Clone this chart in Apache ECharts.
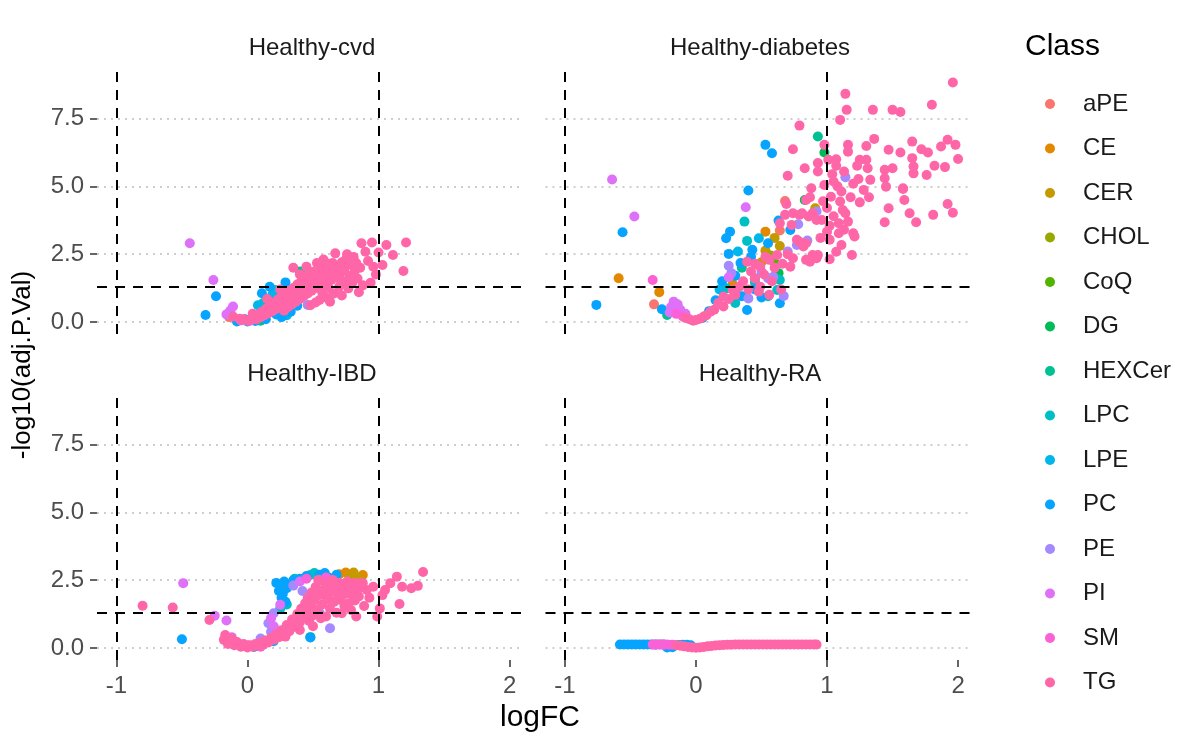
<!DOCTYPE html>
<html>
<head>
<meta charset="utf-8">
<script src="https://cdn.jsdelivr.net/npm/echarts@6/dist/echarts.min.js"></script>
<style>
html,body{margin:0;padding:0;background:#fff;}
#chart{width:1185px;height:740px;}
</style>
</head>
<body>
<div id="chart"></div>
<script>
// ---------- categories / labels ----------
const classes = ['aPE','CE','CER','CHOL','CoQ','DG','HEXCer','LPC','LPE','PC','PE','PI','SM','TG'];
const classColors = ['#F8766D','#E38900','#C49A00','#99A800','#53B400','#00BC56','#00C094','#00BFC4','#00B6EB','#06A4FF','#A58AFF','#DF70F8','#FB61D7','#FF66A8'];
const panelTitles = ['Healthy-cvd','Healthy-diabetes','Healthy-IBD','Healthy-RA'];
const xTicks = [-1, 0, 1, 2];
const yTicks = [0, 2.5, 5, 7.5];
const fcCutoffs = [-1, 1];
const pCutoff = 1.3;

// ---------- Healthy-cvd ----------
const cvd_aPE = [[-0.14,0.18]];
const cvd_DG = [[0.28,1.10]];
const cvd_HEXCer = [[0.40,1.86],[0.10,0.05]];
const cvd_LPC = [[0.21,1.18],[0.12,0.70]];
const cvd_LPE = [[0.08,0.62],[0.19,1.00],[0.30,0.25]];
const cvd_PC = [[-0.24,0.95],[-0.32,0.26],[-0.08,0.02],[0.11,1.06],[0.17,1.30],[0.29,1.46],[0.33,0.38],[0.00,0.02],[0.06,0.04],[0.14,0.10],[0.22,0.28],[0.26,0.18],[0.38,0.60],[-0.02,0.10]];
const cvd_PE = [[-0.15,0.30],[0.46,0.63],[0.12,0.32],[0.20,0.52],[0.09,0.18]];
const cvd_PI = [[-0.44,2.90],[-0.26,1.55],[-0.11,0.57],[-0.13,0.42],[0.03,0.08],[0.06,0.14],[-0.16,0.28]];
const cvd_SM = [[0.02,0.05],[-0.05,0.06]];
const cvd_TG = [[-0.11,0.20],[-0.06,0.12],[-0.03,0.10],[0.00,0.05],[0.03,0.12],[0.05,0.20],[0.07,0.10],[0.08,0.28],[0.10,0.18],[0.11,0.38],[0.13,0.25],[0.14,0.48],[0.16,0.32],[0.17,0.58],[0.19,0.40],[0.20,0.70],[0.22,0.48],[0.23,0.82],[0.25,0.58],[0.26,0.95],[0.27,0.70],[0.28,0.42],[0.29,1.05],[0.30,0.80],[0.31,0.55],[0.32,1.15],[0.33,0.92],[0.34,0.65],[0.35,1.25],[0.35,2.00],[0.36,1.02],[0.37,0.75],[0.38,1.38],[0.39,1.12],[0.40,0.85],[0.40,1.75],[0.41,1.50],[0.42,1.25],[0.43,0.95],[0.44,1.62],[0.45,1.35],[0.45,2.04],[0.46,1.05],[0.47,1.75],[0.48,1.48],[0.48,0.62],[0.49,1.15],[0.50,1.85],[0.51,1.58],[0.52,1.25],[0.52,0.72],[0.53,2.17],[0.54,1.70],[0.55,1.35],[0.55,0.81],[0.56,1.95],[0.57,1.10],[0.58,1.60],[0.58,2.30],[0.59,2.05],[0.60,1.40],[0.60,0.90],[0.61,1.80],[0.62,2.15],[0.63,0.75],[0.64,1.55],[0.65,2.17],[0.66,1.90],[0.66,1.05],[0.67,2.53],[0.68,1.65],[0.69,2.05],[0.70,1.30],[0.71,1.80],[0.72,2.20],[0.72,0.98],[0.73,1.50],[0.74,1.95],[0.76,2.50],[0.77,1.24],[0.78,1.70],[0.79,2.10],[0.80,1.45],[0.82,1.90],[0.83,2.17],[0.84,1.60],[0.85,1.10],[0.86,2.00],[0.87,2.90],[0.88,1.35],[0.90,2.59],[0.92,2.25],[0.94,1.45],[0.95,2.93],[0.96,2.04],[0.98,1.75],[1.00,2.56],[1.03,2.10],[1.06,2.84],[1.11,2.47],[1.19,1.88],[1.21,2.93],[0.15,0.85],[0.25,1.20],[0.04,0.30],[0.62,1.25],[0.70,1.60],[0.75,2.30],[0.81,2.40],[0.50,1.35],[0.57,1.85]];

// ---------- Healthy-diabetes ----------
const dia_aPE = [[-0.32,0.65],[0.64,3.37],[0.68,4.46]];
const dia_CE = [[-0.59,1.61],[-0.28,1.10],[0.53,3.33],[0.28,1.40]];
const dia_CER = [[0.91,4.19],[0.53,2.63],[0.64,2.80],[0.50,2.20],[0.60,3.10]];
const dia_CHOL = [[0.57,2.45]];
const dia_CoQ = [[0.60,2.20]];
const dia_DG = [[0.98,6.25],[0.83,4.50],[0.63,1.80],[0.45,1.60]];
const dia_HEXCer = [[0.93,6.84],[-0.22,0.26],[0.35,2.00]];
const dia_LPC = [[0.37,3.70],[0.39,2.99],[0.23,1.24],[0.62,1.18],[0.64,1.55],[0.45,1.45],[0.30,0.70],[0.55,0.95]];
const dia_LPE = [[0.48,3.09],[0.32,2.60],[0.18,1.20],[0.30,1.10]];
const dia_PC = [[-0.76,0.63],[-0.56,3.31],[-0.26,0.47],[0.53,6.53],[0.58,6.22],[0.40,4.85],[0.26,3.33],[0.23,3.09],[0.63,3.74],[0.72,3.39],[0.25,2.51],[0.34,2.17],[0.43,2.66],[0.55,2.90],[0.64,0.69],[0.39,0.44],[0.20,1.50],[0.30,1.70],[0.15,0.80],[0.10,0.40],[0.05,0.15],[0.45,1.20],[0.50,0.90],[0.35,0.95],[0.42,2.40]];
const dia_PE = [[1.14,5.34],[0.92,4.07],[0.77,2.84],[0.25,2.07],[0.27,1.80],[0.55,1.61],[0.59,1.67],[0.67,0.96],[0.40,0.87],[0.85,3.00],[0.70,2.60],[0.50,1.85],[0.78,3.60]];
const dia_PI = [[-0.64,5.25],[-0.47,3.89],[-0.19,0.55],[-0.17,0.75],[-0.14,0.65],[-0.12,0.45],[-0.20,0.35],[0.38,4.23],[0.25,1.65],[-0.08,0.30]];
const dia_SM = [[-0.33,1.55],[-0.15,0.30],[-0.10,0.20]];
const dia_TG = [[1.96,8.83],[1.14,8.41],[1.80,8.01],[1.15,7.82],[1.35,7.82],[1.50,7.82],[1.56,7.74],[1.10,7.45],[0.79,7.24],[0.74,6.37],[0.98,6.53],[1.16,6.53],[1.16,6.28],[1.36,6.75],[1.30,6.49],[1.47,6.35],[1.56,6.25],[1.65,6.65],[1.72,6.37],[1.77,6.25],[1.87,6.47],[1.92,6.72],[1.98,6.53],[2.00,6.01],[1.90,5.71],[1.82,5.76],[1.76,5.42],[1.65,6.04],[1.66,5.73],[1.66,5.48],[1.50,5.67],[1.44,5.61],[1.44,5.30],[1.45,4.99],[1.58,4.90],[1.30,5.98],[1.25,5.98],[1.31,5.67],[1.23,5.76],[1.33,5.24],[1.24,5.27],[1.28,4.87],[1.07,6.00],[1.07,5.76],[1.01,5.98],[0.93,5.86],[0.93,5.55],[0.83,5.67],[0.70,5.39],[1.05,5.18],[0.88,4.93],[1.11,4.81],[0.84,4.50],[0.87,4.60],[0.69,4.35],[1.03,4.62],[1.10,4.44],[1.12,4.13],[1.14,4.01],[1.25,4.41],[1.32,4.60],[1.47,4.19],[1.44,3.68],[1.59,4.50],[1.63,4.01],[1.68,3.68],[1.81,3.95],[1.92,4.35],[1.96,4.03],[1.58,4.93],[0.68,3.95],[0.81,4.01],[0.89,4.01],[0.96,3.76],[1.09,3.64],[1.16,3.70],[1.00,3.33],[1.09,3.27],[1.20,3.27],[1.21,3.15],[0.79,2.96],[0.84,2.90],[1.02,3.03],[1.11,2.84],[1.19,2.47],[1.07,2.59],[0.89,2.47],[0.93,2.47],[0.87,2.22],[1.02,2.31],[0.74,2.35],[0.72,2.04],[0.64,3.64],[0.73,3.58],[0.74,4.01],[0.79,3.95],[0.86,3.89],[0.92,3.76],[0.77,3.03],[0.82,2.78],[0.84,2.29],[0.92,2.35],[0.00,0.07],[0.06,0.20],[0.11,0.38],[0.21,0.57],[0.21,0.94],[0.28,1.18],[0.33,1.30],[0.42,1.86],[0.49,2.04],[0.56,2.29],[0.62,2.47],[0.49,1.30],[0.56,1.00],[0.48,1.12],[0.39,2.22],[-0.02,0.05],[-0.05,0.10],[-0.08,0.15],[0.03,0.12],[0.08,0.25],[0.14,0.45],[0.17,0.70],[0.25,0.85],[0.30,1.00],[0.36,1.50],[0.40,1.20],[0.45,1.60],[0.52,1.75],[0.58,1.50],[0.60,2.00],[0.66,2.15],[0.70,2.50],[0.53,2.40],[0.45,2.15],[0.65,1.20],[1.00,4.20],[1.05,3.90],[0.97,4.45],[1.08,5.00],[1.13,5.55],[1.04,5.45],[0.98,5.05],[1.18,4.60],[1.20,5.10],[1.02,3.55],[0.95,3.10],[1.13,3.40]];

// ---------- Healthy-IBD ----------
const ibd_CE = [[0.75,2.78],[0.88,2.69],[0.70,2.72]];
const ibd_CER = [[0.81,2.78],[0.85,2.60],[0.78,2.65]];
const ibd_DG = [[0.48,0.40]];
const ibd_HEXCer = [[0.05,0.05]];
const ibd_LPC = [[0.48,2.69],[0.51,2.76],[0.36,2.55],[0.30,1.60],[0.25,1.45]];
const ibd_PC = [[-0.50,0.32],[0.22,2.40],[0.25,2.30],[0.28,2.45],[0.24,2.10],[0.27,2.00],[0.30,2.20],[0.33,2.35],[0.26,1.85],[0.29,1.70],[0.59,2.76],[0.55,2.70],[0.48,0.39],[0.62,2.60],[0.40,2.55],[0.45,2.65],[0.68,2.70],[0.35,2.50],[0.05,0.05],[0.10,0.12],[0.20,0.25]];
const ibd_PE = [[0.20,1.28],[0.16,0.91],[0.63,0.73],[0.10,0.35],[0.35,2.30],[0.42,2.10],[0.55,1.30],[0.18,0.60],[-0.05,0.12]];
const ibd_PI = [[-0.49,2.39],[-0.25,1.19],[-0.16,1.01],[0.25,1.59],[0.18,1.10],[0.40,2.45],[-0.12,0.40],[0.55,2.50],[0.20,0.80]];
const ibd_SM = [[0.00,0.10],[0.10,0.05],[0.45,2.55],[0.60,2.60]];
const ibd_TG = [[-0.80,1.56],[-0.57,1.49],[-0.29,1.03],[-0.17,0.48],[-0.18,0.30],[-0.15,0.15],[-0.12,0.35],[-0.10,0.10],[-0.08,0.22],[-0.05,0.05],[-0.03,0.15],[0.00,0.02],[0.02,0.10],[0.04,0.05],[0.06,0.15],[0.08,0.08],[0.10,0.20],[0.12,0.12],[0.14,0.28],[0.16,0.20],[0.18,0.38],[0.20,0.30],[0.22,0.50],[0.24,0.40],[0.26,0.65],[0.28,0.50],[0.29,0.42],[0.30,0.85],[0.32,0.62],[0.34,1.05],[0.36,0.78],[0.38,1.25],[0.40,0.95],[0.40,0.66],[0.41,1.45],[0.43,1.15],[0.44,1.65],[0.45,1.35],[0.46,1.85],[0.47,1.00],[0.48,1.55],[0.49,2.05],[0.50,1.20],[0.50,0.80],[0.51,1.75],[0.52,2.25],[0.53,1.40],[0.54,2.51],[0.55,1.95],[0.56,1.10],[0.57,1.60],[0.58,2.15],[0.59,2.40],[0.60,1.16],[0.61,1.80],[0.62,2.00],[0.63,1.45],[0.64,2.30],[0.65,2.51],[0.66,1.70],[0.67,2.10],[0.68,1.30],[0.69,1.95],[0.70,2.40],[0.71,1.77],[0.72,1.28],[0.73,2.20],[0.74,1.55],[0.75,2.00],[0.76,2.45],[0.77,1.65],[0.78,2.25],[0.79,1.40],[0.80,1.96],[0.81,2.40],[0.82,1.75],[0.83,1.16],[0.84,2.15],[0.85,1.90],[0.86,2.40],[0.88,2.39],[0.89,1.55],[0.91,2.14],[0.93,1.85],[0.96,2.26],[0.99,1.16],[1.01,1.46],[1.03,1.95],[1.05,2.14],[1.09,2.39],[1.14,2.63],[1.16,1.62],[1.18,2.26],[1.25,2.20],[1.30,2.29],[1.34,2.80]];

// ---------- Healthy-RA ----------
const ra_PC = [[-0.58,0.13],[-0.55,0.13],[-0.52,0.13],[-0.49,0.13],[-0.46,0.13],[-0.43,0.13],[-0.40,0.13],[-0.37,0.13],[-0.34,0.13],[-0.31,0.13],[-0.28,0.13],[-0.25,0.13],[-0.22,0.12],[-0.19,0.10],[-0.16,0.10],[-0.13,0.11],[-0.10,0.12],[-0.07,0.12],[-0.04,0.10],[-0.22,0.02],[-0.18,0.03]];
const ra_PI = [[-0.31,0.12],[-0.25,0.12]];
const ra_SM = [[-0.33,0.13],[-0.30,0.13],[-0.27,0.13],[-0.24,0.13],[-0.21,0.12],[-0.18,0.12]];
const ra_TG = [[-0.15,0.10],[-0.12,0.08],[-0.09,0.06],[-0.06,0.04],[-0.03,0.02],[0.00,0.01],[0.03,0.02],[0.06,0.04],[0.09,0.06],[0.12,0.07],[0.15,0.09],[0.18,0.10],[0.21,0.11],[0.24,0.12],[0.27,0.12],[0.30,0.13],[0.33,0.13],[0.36,0.13],[0.39,0.13],[0.42,0.13],[0.45,0.13],[0.48,0.13],[0.51,0.13],[0.54,0.13],[0.57,0.13],[0.60,0.13],[0.63,0.13],[0.66,0.13],[0.69,0.13],[0.72,0.13],[0.75,0.13],[0.78,0.13],[0.81,0.13],[0.84,0.13],[0.87,0.13],[0.90,0.13],[0.92,0.13]];

// ---------- assemble ----------
const panelData = [
  {aPE:cvd_aPE, DG:cvd_DG, HEXCer:cvd_HEXCer, LPC:cvd_LPC, LPE:cvd_LPE, PC:cvd_PC, PE:cvd_PE, PI:cvd_PI, SM:cvd_SM, TG:cvd_TG},
  {aPE:dia_aPE, CE:dia_CE, CER:dia_CER, CHOL:dia_CHOL, CoQ:dia_CoQ, DG:dia_DG, HEXCer:dia_HEXCer, LPC:dia_LPC, LPE:dia_LPE, PC:dia_PC, PE:dia_PE, PI:dia_PI, SM:dia_SM, TG:dia_TG},
  {CE:ibd_CE, CER:ibd_CER, DG:ibd_DG, HEXCer:ibd_HEXCer, LPC:ibd_LPC, PC:ibd_PC, PE:ibd_PE, PI:ibd_PI, SM:ibd_SM, TG:ibd_TG},
  {PC:ra_PC, PI:ra_PI, SM:ra_SM, TG:ra_TG}
];

const FONT = '"Liberation Sans", Arial, Helvetica, sans-serif';
const X_MIN = -1.148, X_MAX = 2.11, Y_MIN = -0.443, Y_MAX = 9.29;
const gridBoxes = [
  {left: 97, top: 70, width: 427, height: 264},
  {left: 545.5, top: 70, width: 427, height: 264},
  {left: 97, top: 396, width: 427, height: 264},
  {left: 545.5, top: 396, width: 427, height: 264}
];

const xAxes = [], yAxes = [], series = [];
gridBoxes.forEach((g, p) => {
  const bottomRow = p >= 2, leftCol = (p % 2) === 0;
  xAxes.push({
    type: 'value', gridIndex: p, min: X_MIN, max: X_MAX, position: 'bottom',
    axisLine: {show: false, onZero: false},
    splitLine: {show: false},
    axisTick: {show: bottomRow, customValues: xTicks, length: 7, lineStyle: {color: '#333333', width: 1.5}},
    axisLabel: {show: bottomRow, customValues: xTicks, margin: 14, fontSize: 24, color: '#4D4D4D', fontFamily: FONT,
      formatter: v => String(v)}
  });
  yAxes.push({
    type: 'value', gridIndex: p, min: Y_MIN, max: Y_MAX, position: 'left',
    axisLine: {show: false, onZero: false},
    splitLine: {show: false},
    axisTick: {show: leftCol, customValues: yTicks, length: 7, lineStyle: {color: '#333333', width: 1.5}},
    axisLabel: {show: leftCol, customValues: yTicks, margin: 13, fontSize: 24, color: '#4D4D4D', fontFamily: FONT,
      formatter: v => Number(v).toFixed(1)}
  });
  // dotted horizontal grid lines (below points)
  series.push({
    name: '_grid' + p, type: 'scatter', xAxisIndex: p, yAxisIndex: p, data: [], silent: true,
    markLine: {
      silent: true, symbol: 'none', z: 1, animation: false,
      label: {show: false},
      lineStyle: {color: '#BEBEBE', type: [2, 5], width: 1.6},
      emphasis: {disabled: true},
      data: yTicks.map(v => ({yAxis: v}))
    }
  });
  const sets = panelData[p];
  classes.forEach((c, ci) => {
    if (!sets[c]) return;
    series.push({
      name: c, type: 'scatter', xAxisIndex: p, yAxisIndex: p,
      data: sets[c], symbol: 'circle', symbolSize: 10, z: 2,
      itemStyle: {color: classColors[ci], opacity: 1},
      emphasis: {disabled: true}
    });
  });
  // dashed thresholds (on top)
  series.push({
    name: '_cut' + p, type: 'scatter', xAxisIndex: p, yAxisIndex: p, data: [], silent: true,
    markLine: {
      silent: true, symbol: 'none', z: 10, animation: false,
      label: {show: false},
      lineStyle: {color: '#000000', type: [10, 8], width: 2},
      emphasis: {disabled: true},
      data: fcCutoffs.map(v => ({xAxis: v})).concat([{yAxis: pCutoff}])
    }
  });
});

const stripPos = [[312, 48], [760, 48], [312, 374], [760, 374]];
const graphics = panelTitles.map((t, i) => ({
  type: 'text', x: stripPos[i][0], y: stripPos[i][1], silent: true,
  style: {text: t, fontSize: 24, fill: '#1A1A1A', fontFamily: FONT, textAlign: 'center', textVerticalAlign: 'middle'}
}));
graphics.push({
  type: 'text', x: 540, y: 718, silent: true,
  style: {text: 'logFC', fontSize: 30, fill: '#000', fontFamily: FONT, textAlign: 'center', textVerticalAlign: 'middle'}
});
graphics.push({
  type: 'text', x: 23, y: 365, rotation: Math.PI / 2, silent: true,
  style: {text: '-log10(adj.P.Val)', fontSize: 26, fill: '#000', fontFamily: FONT, textAlign: 'center', textVerticalAlign: 'middle'}
});
graphics.push({
  type: 'text', x: 1025, y: 47, silent: true,
  style: {text: 'Class', fontSize: 30, fill: '#000', fontFamily: FONT, textAlign: 'left', textVerticalAlign: 'middle'}
});

const chart = echarts.init(document.getElementById('chart'), null, {renderer: 'canvas'});
chart.setOption({
  animation: false,
  backgroundColor: '#ffffff',
  grid: gridBoxes.map(g => Object.assign({containLabel: false}, g)),
  xAxis: xAxes,
  yAxis: yAxes,
  legend: {
    data: classes, orient: 'vertical', left: 1040, top: 87,
    icon: 'circle', itemWidth: 10, itemHeight: 10, itemGap: 20.5,
    textStyle: {fontSize: 24, color: '#1A1A1A', fontFamily: FONT, lineHeight: 24, padding: [0, 0, 0, 23]}
  },
  graphic: graphics,
  series: series
});
</script>
</body>
</html>
